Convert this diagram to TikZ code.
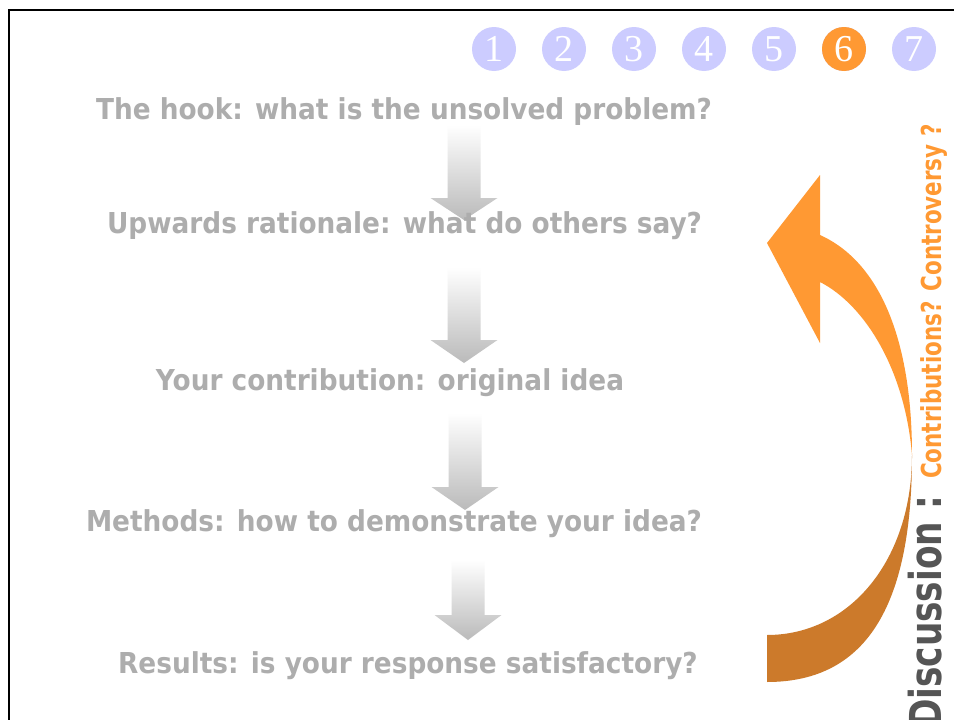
\documentclass[tikz,border=0pt]{standalone}
\usepackage{fontspec}
\usepackage{tikz}
\usetikzlibrary{positioning}
\newfontfamily\slidefont{DejaVu Sans}[FakeStretch=0.915]
\newfontfamily\sidefont{DejaVu Sans}[FakeStretch=0.78]
\newfontfamily\digitfont{Liberation Serif}
\definecolor{lavender}{HTML}{CCCCFF}
\definecolor{tangerine}{HTML}{FF9933}
\definecolor{rust}{HTML}{CC7A2B}
\definecolor{fog}{HTML}{ADADAD}
\definecolor{ink}{HTML}{555555}
\tikzset{
  every node/.style={
    align=center,
    draw=none,
    inner sep=0pt,
  },
  stage/.style={
    anchor=base,
    text=fog,
    font=\slidefont\bfseries\fontsize{28.8}{30}\selectfont,
  },
  bullet/.style={
    circle,
    minimum size=44pt,
    fill=lavender,
    text=white,
    font=\digitfont\fontsize{38}{38}\selectfont,
  },
}
\newcommand{\grayarrow}[4]{%
  \shade[top color=white, bottom color=black!27]
    (#1-16.5,#2) -- (#1+16.5,#2) -- (#1+16.5,#3) -- (#1+33.5,#3)
    -- (#1,#4) -- (#1-33.5,#3) -- (#1-16.5,#3) -- cycle;
}

\begin{document}
\begin{tikzpicture}[x=1pt,y=-1pt]
    \useasboundingbox (0,0) rectangle (954,720);
    \fill[white] (0,0) rectangle (954,720);
    \draw[line width=2.7pt] (9,720) -- (9,10) -- (954,10);

    \foreach \i in {1,...,7}
      \node[bullet] (b\i) at (424+70*\i,49) {\i};
    \node[bullet, fill=tangerine] at (b6) {6};

    \grayarrow{464}{125}{198}{220}
    \grayarrow{464}{267}{340}{363}
    \grayarrow{465}{413}{487}{510}
    \grayarrow{468}{560}{615}{640}

    \node[stage] (hook) at (404,119) {The hook: what is the unsolved problem?};
    \node[stage] (rationale) at (404.5,233) {Upwards rationale: what do others say?};
    \node[stage] (contribution) at (390,390) {Your contribution: original idea};
    \node[stage] (methods) at (394,531) {Methods: how to demonstrate your idea?};
    \node[stage] (results) at (408,673) {Results: is your response satisfactory?};

    \fill[rust] (767,682) .. controls (870,682) and (912,600) .. (912,455)
      .. controls (912,560) and (850,635) .. (767,635) -- cycle;
    \fill[tangerine] (820,235) .. controls (880,262) and (912,340) .. (912,455)
      .. controls (905,370) and (865,305) .. (820,282)
      -- (820,343) -- (767,243) -- (820,175) -- cycle;

    \node[rotate=90, anchor=base east, text=ink,
      font=\sidefont\bfseries\fontsize{44}{44}\selectfont]
      (discussion) at (941,496) {Discussion :};
    \node[rotate=90, anchor=base west, text=tangerine,
      font=\sidefont\bfseries\fontsize{27.5}{28}\selectfont]
      (questions) at (941,479) {Contributions? Controversy ?};
\end{tikzpicture}
\end{document}
